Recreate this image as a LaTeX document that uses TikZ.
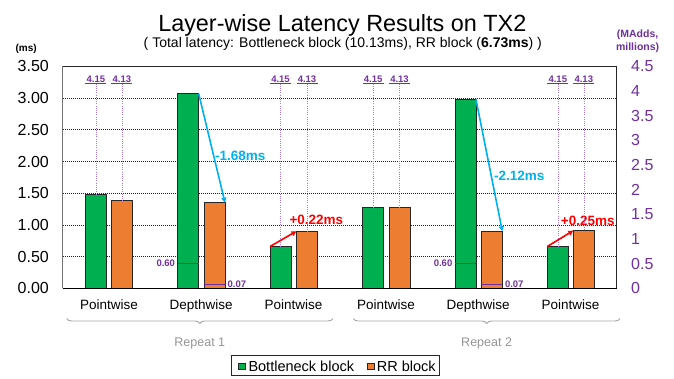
\documentclass[tikz,border=0pt]{standalone}
\usepackage{fontspec}
\setmainfont{Liberation Sans}
\usetikzlibrary{decorations.pathreplacing,arrows.meta}
\definecolor{cgreen}{HTML}{00B050}
\definecolor{corange}{HTML}{ED7D31}
\definecolor{cpurple}{HTML}{7030A0}
\definecolor{clpurple}{HTML}{A47AD6}
\definecolor{ccyan}{HTML}{00B0F0}
\definecolor{cred}{HTML}{FF0000}
\definecolor{cgray}{HTML}{A6A6A6}
\definecolor{cdark}{HTML}{262626}
\tikzset{
  bar/.style={draw=cdark, line width=0.8pt, minimum width=21pt, inner sep=0pt, outer sep=0pt, anchor=south west},
  gridln/.style={black!85, line width=0.7pt, dash pattern=on 1pt off 1pt},
  mline/.style={cpurple, line width=1.3pt},
  vdot/.style={clpurple, line width=0.6pt, dash pattern=on 1pt off 1.2pt},
  mlab/.style={cpurple, font=\bfseries\fontsize{9.5}{11}\selectfont, inner sep=1pt},
  ytick/.style={font=\fontsize{16}{18}\selectfont, inner sep=0pt},
  rtick/.style={cpurple, font=\fontsize{16}{18}\selectfont, inner sep=0pt, anchor=west},
  catlab/.style={font=\fontsize{13.5}{16}\selectfont, anchor=base},
  replab/.style={cgray!90!black, font=\fontsize{12.5}{15}\selectfont, anchor=base},
  bracestyle/.style={cgray, line width=0.9pt, decorate, decoration={brace, mirror, amplitude=5pt}},
  deltalab/.style={font=\bfseries\fontsize{13.5}{16}\selectfont, inner sep=0pt},
  darrow/.style={line width=1.6pt, -{Triangle[length=5pt,width=5pt]}},
  legsq/.style={draw=cdark, line width=0.5pt, minimum width=6.5pt, minimum height=6.5pt, inner sep=0pt},
  legtxt/.style={font=\fontsize{14.5}{17}\selectfont, anchor=base west, inner sep=0pt}
}
\begin{document}
\begin{tikzpicture}[x=1pt,y=-1pt]
\useasboundingbox (0,0) rectangle (674,378);

% titles
\node[font=\fontsize{23.4}{28}\selectfont, anchor=base, inner sep=0pt] (title) at (342.3,31.7) {Layer-wise Latency Results on TX2};
\node[font=\fontsize{14}{16}\selectfont, anchor=base, inner sep=0pt] (subtitle) at (342.8,47.5) {( Total latency: Bottleneck block (10.13ms), RR block (\textbf{6.73ms}) )};
\node[font=\bfseries\fontsize{10}{12}\selectfont, inner sep=0pt] (ms) at (26.2,49) {(ms)};
\node[cpurple, font=\bfseries\fontsize{10.5}{13.3}\selectfont, align=center, inner sep=0pt] (madd) at (637.6,41.6) {(MAdds,\\millions)};

% grid
\foreach \v in {0.5,1,1.5,2,2.5,3}
  \draw[gridln] (62.7,{288.3-63.4*\v}) -- (616.7,{288.3-63.4*\v});

% frame
\draw[cdark, line width=0.8pt] (62.7,66.4) -- (616.7,66.4) -- (616.7,288.3);
\draw[black!55, line width=1.4pt] (62.7,66.4) -- (62.7,288.3);

% ticks left
\foreach \v/\t [count=\i] in {0/0.00,0.5/0.50,1/1.00,1.5/1.50,2/2.00,2.5/2.50,3/3.00,3.5/3.50}
  \node[ytick, anchor=east] (yl\i) at (49,{288.3-63.4*\v}) {\t};
% ticks right
\foreach \v [count=\i] in {0,0.5,1,1.5,2,2.5,3,3.5,4,4.5}
  \node[rtick] (yr\i) at (631,{288.3-49.3*\v}) {\v};

% marker level coordinates
\coordinate (mk) at (0,83.6);
\coordinate (dm1) at (0,263.7);
\coordinate (dm2) at (0,284.3);

% bars
\node[bar, fill=cgreen,  minimum height=93.8pt]  (g1) at (85.4,288.3) {};
\node[bar, fill=corange, minimum height=87.5pt]  (o1) at (111.4,288.3) {};
\node[bar, fill=cgreen,  minimum height=194.6pt] (g2) at (177.7,288.3) {};
\node[bar, fill=corange, minimum height=85.6pt]  (o2) at (204,288.3) {};
\node[bar, fill=cgreen,  minimum height=41.8pt]  (g3) at (270,288.3) {};
\node[bar, fill=corange, minimum height=57.1pt]  (o3) at (296.5,288.3) {};
\node[bar, fill=cgreen,  minimum height=81.2pt]  (g4) at (362.7,288.3) {};
\node[bar, fill=corange, minimum height=81.2pt]  (o4) at (389,288.3) {};
\node[bar, fill=cgreen,  minimum height=188.9pt] (g5) at (455,288.3) {};
\node[bar, fill=corange, minimum height=57.1pt]  (o5) at (481.3,288.3) {};
\node[bar, fill=cgreen,  minimum height=41.8pt]  (g6) at (547.3,288.3) {};
\node[bar, fill=corange, minimum height=57.7pt]  (o6) at (573.3,288.3) {};

% bottom axis
\draw[black, line width=1.2pt] (62.7,288.3) -- (616.7,288.3);

% pointwise MAdds markers
\foreach \b/\t in {g1/4.15,o1/4.13,g3/4.15,o3/4.13,g4/4.15,o4/4.13,g6/4.15,o6/4.13}{
  \draw[vdot] (\b.north |- mk) -- (\b.north);
  \draw[mline] (\b.west |- mk) -- (\b.east |- mk);
  \node[mlab, anchor=south] (lab\b) at (\b.north |- mk) {\t};
}
% depthwise markers
\foreach \g/\o in {g2/o2,g5/o5}{
  \draw[mline] (\g.west |- dm1) -- (\g.east |- dm1);
  \node[mlab, anchor=east, inner sep=2.5pt] (lab\g) at (\g.west |- dm1) {0.60};
  \draw[mline] (\o.west |- dm2) -- (\o.east |- dm2);
  \node[mlab, anchor=west, inner sep=2.5pt] (lab\o) at (\o.east |- dm2) {0.07};
}

% delta arrows
\draw[darrow, ccyan] (g2.north east) -- (o2.north east);
\node[deltalab, ccyan, anchor=west] (d1) at (215,155.7) {-1.68ms};
\draw[darrow, ccyan] (g5.north east) -- (o5.north east);
\node[deltalab, ccyan, anchor=west] (d2) at (494,176) {-2.12ms};
\draw[darrow, cred] (g3.north west) -- (o3.north west);
\node[deltalab, cred, anchor=west] (d3) at (289.3,220) {+0.22ms};
\draw[darrow, cred] (g6.north west) -- (o6.north west);
\node[deltalab, cred, anchor=west] (d4) at (560.7,221) {+0.25ms};

% category labels
\foreach \c/\t [count=\i] in {108.9/Pointwise,201.2/Depthwise,293.5/Pointwise,385.9/Pointwise,478.2/Depthwise,570.5/Pointwise}
  \node[catlab] (cat\i) at (\c,309.5) {\t};

% braces
\coordinate (b1s) at (66.7,318.5);
\coordinate (b1e) at (333,318.5);
\coordinate (b2s) at (353.3,318.5);
\coordinate (b2e) at (620,318.5);
\draw[bracestyle] (b1s) -- (b1e);
\draw[bracestyle] (b2s) -- (b2e);
\node[replab] (rep1) at (199.8,346.5) {Repeat 1};
\node[replab] (rep2) at (486.6,346.5) {Repeat 2};

% legend
\node[draw=cdark, line width=0.8pt, minimum width=207.3pt, minimum height=20pt, inner sep=0pt] (legend) at (335.35,365) {};
\node[legsq, fill=cgreen] (lgg) at (241.7,366) {};
\node[legtxt] (lggt) at (248.3,371.5) {Bottleneck block};
\node[legsq, fill=corange] (lgo) at (370.5,366) {};
\node[legtxt] (lgot) at (376.7,371.5) {RR block};
\end{tikzpicture}
\end{document}
